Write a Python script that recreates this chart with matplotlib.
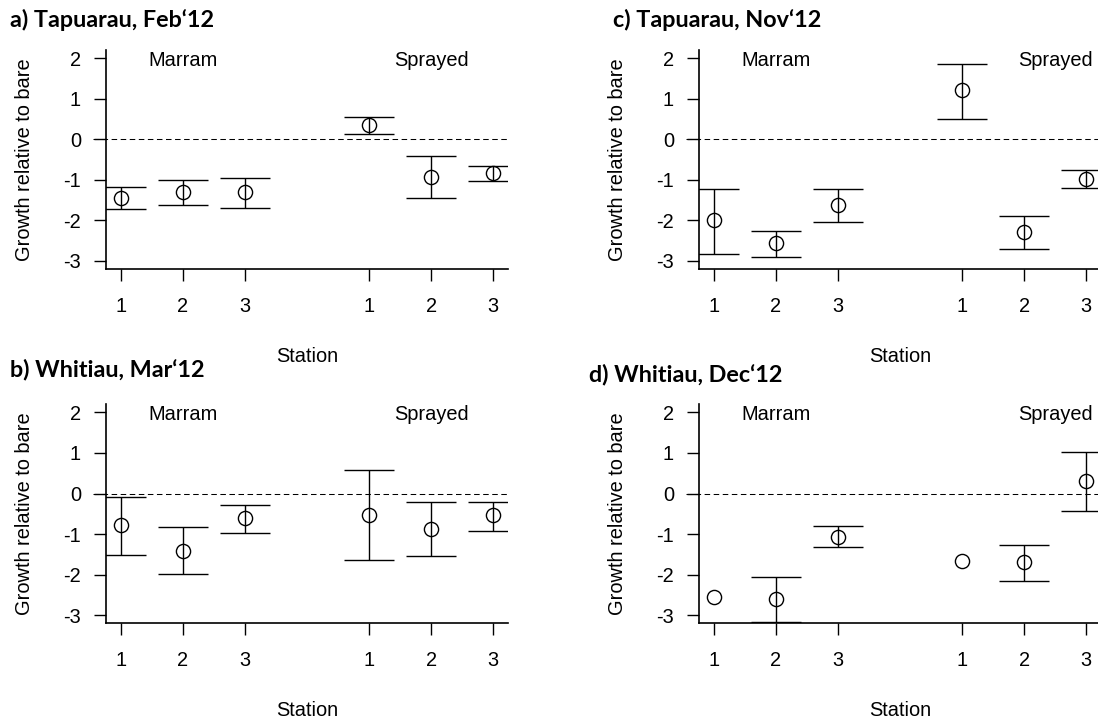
import numpy as np
import matplotlib
matplotlib.use("Agg")
import matplotlib.pyplot as plt
from matplotlib import font_manager as fm

plt.rcParams['font.family'] = ['Liberation Sans', 'DejaVu Sans']
plt.rcParams['font.sans-serif'] = ['Liberation Sans', 'DejaVu Sans']

# ---------------- data ----------------
positions = [1, 2, 3, 5, 6, 7]
tick_labels = ["1", "2", "3", "1", "2", "3"]
y_ticks = [-3, -2, -1, 0, 1, 2]

titles = ["a) Tapuarau, Feb\u201812", "b) Whitiau, Mar\u201812",
          "c) Tapuarau, Nov\u201812", "d) Whitiau, Dec\u201812"]

a_mean = [-1.44, -1.30, -1.30, 0.34, -0.93, -0.83]
a_hi   = [-1.17, -1.01, -0.95, 0.54, -0.41, -0.66]
a_lo   = [-1.73, -1.61, -1.70, 0.12, -1.45, -1.02]

b_mean = [-0.77, -1.41, -0.61, -0.52, -0.87, -0.54]
b_hi   = [-0.08, -0.82, -0.28, 0.58, -0.22, -0.22]
b_lo   = [-1.51, -1.99, -0.98, -1.64, -1.54, -0.92]

c_mean = [-1.99, -2.57, -1.63, 1.21, -2.28, -0.97]
c_hi   = [-1.23, -2.26, -1.23, 1.85, -1.89, -0.76]
c_lo   = [-2.84, -2.90, -2.05, 0.51, -2.70, -1.20]

d_mean = [-2.55, -2.59, -1.06, -1.67, -1.69, 0.31]
d_hi   = [np.nan, -2.06, -0.79, np.nan, -1.26, 1.02]
d_lo   = [np.nan, -3.17, -1.32, np.nan, -2.15, -0.44]

group_names = ["Marram", "Sprayed"]
group_x = {"a": [2, 6], "b": [2, 6], "c": [2, 6.5], "d": [2, 6.5]}

# ---------------- figure ----------------
W, H = 1098, 722
fig = plt.figure(figsize=(W / 100, H / 100), dpi=100)

body_font = fm.FontProperties(fname=fm.findfont(fm.FontProperties(family="Liberation Sans")))

FS = 14.4
LW = 1.0

def px_rect(left, top, width, height):
    return [left / W, 1 - (top + height) / H, width / W, height / H]

ax_w, ax_h = 402, 219
rects = {
    "a": px_rect(106, 50, ax_w, ax_h),
    "b": px_rect(106, 404.3, ax_w, ax_h),
    "c": px_rect(699, 50, ax_w, ax_h),
    "d": px_rect(699, 404.3, ax_w, ax_h),
}
data = {
    "a": (a_mean, a_hi, a_lo),
    "b": (b_mean, b_hi, b_lo),
    "c": (c_mean, c_hi, c_lo),
    "d": (d_mean, d_hi, d_lo),
}

def fp(size):
    p = body_font.copy()
    p.set_size(size)
    return p

for key in ["a", "b", "c", "d"]:
    ax = fig.add_axes(rects[key])
    mean, hi, lo = data[key]
    x = np.array(positions, dtype=float)
    hi = np.array(hi, dtype=float)
    lo = np.array(lo, dtype=float)
    ok = ~np.isnan(hi)
    ax.plot([-0.032, 1.0], [0, 0], transform=ax.get_yaxis_transform(),
            color="black", lw=0.75, linestyle=(0, (5.3, 3.4)),
            clip_on=False, zorder=1)
    ax.vlines(x[ok], lo[ok], hi[ok], color="black", lw=LW, zorder=2)
    ax.hlines(hi[ok], x[ok] - 0.4, x[ok] + 0.4, color="black", lw=LW, zorder=2)
    ax.hlines(lo[ok], x[ok] - 0.4, x[ok] + 0.4, color="black", lw=LW, zorder=2)
    ax.plot(x, mean, linestyle="none", marker="o", markersize=10.2,
            markerfacecolor="none", markeredgecolor="black",
            markeredgewidth=LW, zorder=3)
    ax.set_xlim(0.76, 7.24)
    ax.set_ylim(-3.2, 2.2)
    ax.set_xticks(positions)
    ax.set_xticklabels(tick_labels, fontproperties=fp(FS))
    ax.set_yticks(y_ticks)
    ax.set_yticklabels([str(v) for v in y_ticks], fontproperties=fp(FS))
    ax.tick_params(axis="both", direction="out", length=8.5, width=LW,
                   color="black")
    ax.tick_params(axis="x", pad=11.5)
    ax.tick_params(axis="y", pad=9.5)
    for s in ["top", "right"]:
        ax.spines[s].set_visible(False)
    for s in ["left", "bottom"]:
        ax.spines[s].set_linewidth(1.2)
    for name, gx in zip(group_names, group_x[key]):
        ax.text(gx, 1.95, name, ha="center", va="center", fontproperties=fp(FS))
    ax.text(-0.2027, 0.5, "Growth relative to bare", rotation=90,
            ha="center", va="center", fontproperties=fp(FS), transform=ax.transAxes)
    ax.text(0.5, -0.40, "Station", ha="center", va="center",
            fontproperties=fp(FS), transform=ax.transAxes)

title_pos = {"a": (10, 20), "b": (10, 369), "c": (613, 20), "d": (589, 374)}
for key, t in zip(["a", "b", "c", "d"], titles):
    px, py = title_pos[key]
    fig.text(px / W, 1 - py / H, t, ha="left", va="center",
             fontsize=16.8, fontweight="bold", family=["Lato", "DejaVu Sans"])

fig.savefig("out.png", dpi=100)
